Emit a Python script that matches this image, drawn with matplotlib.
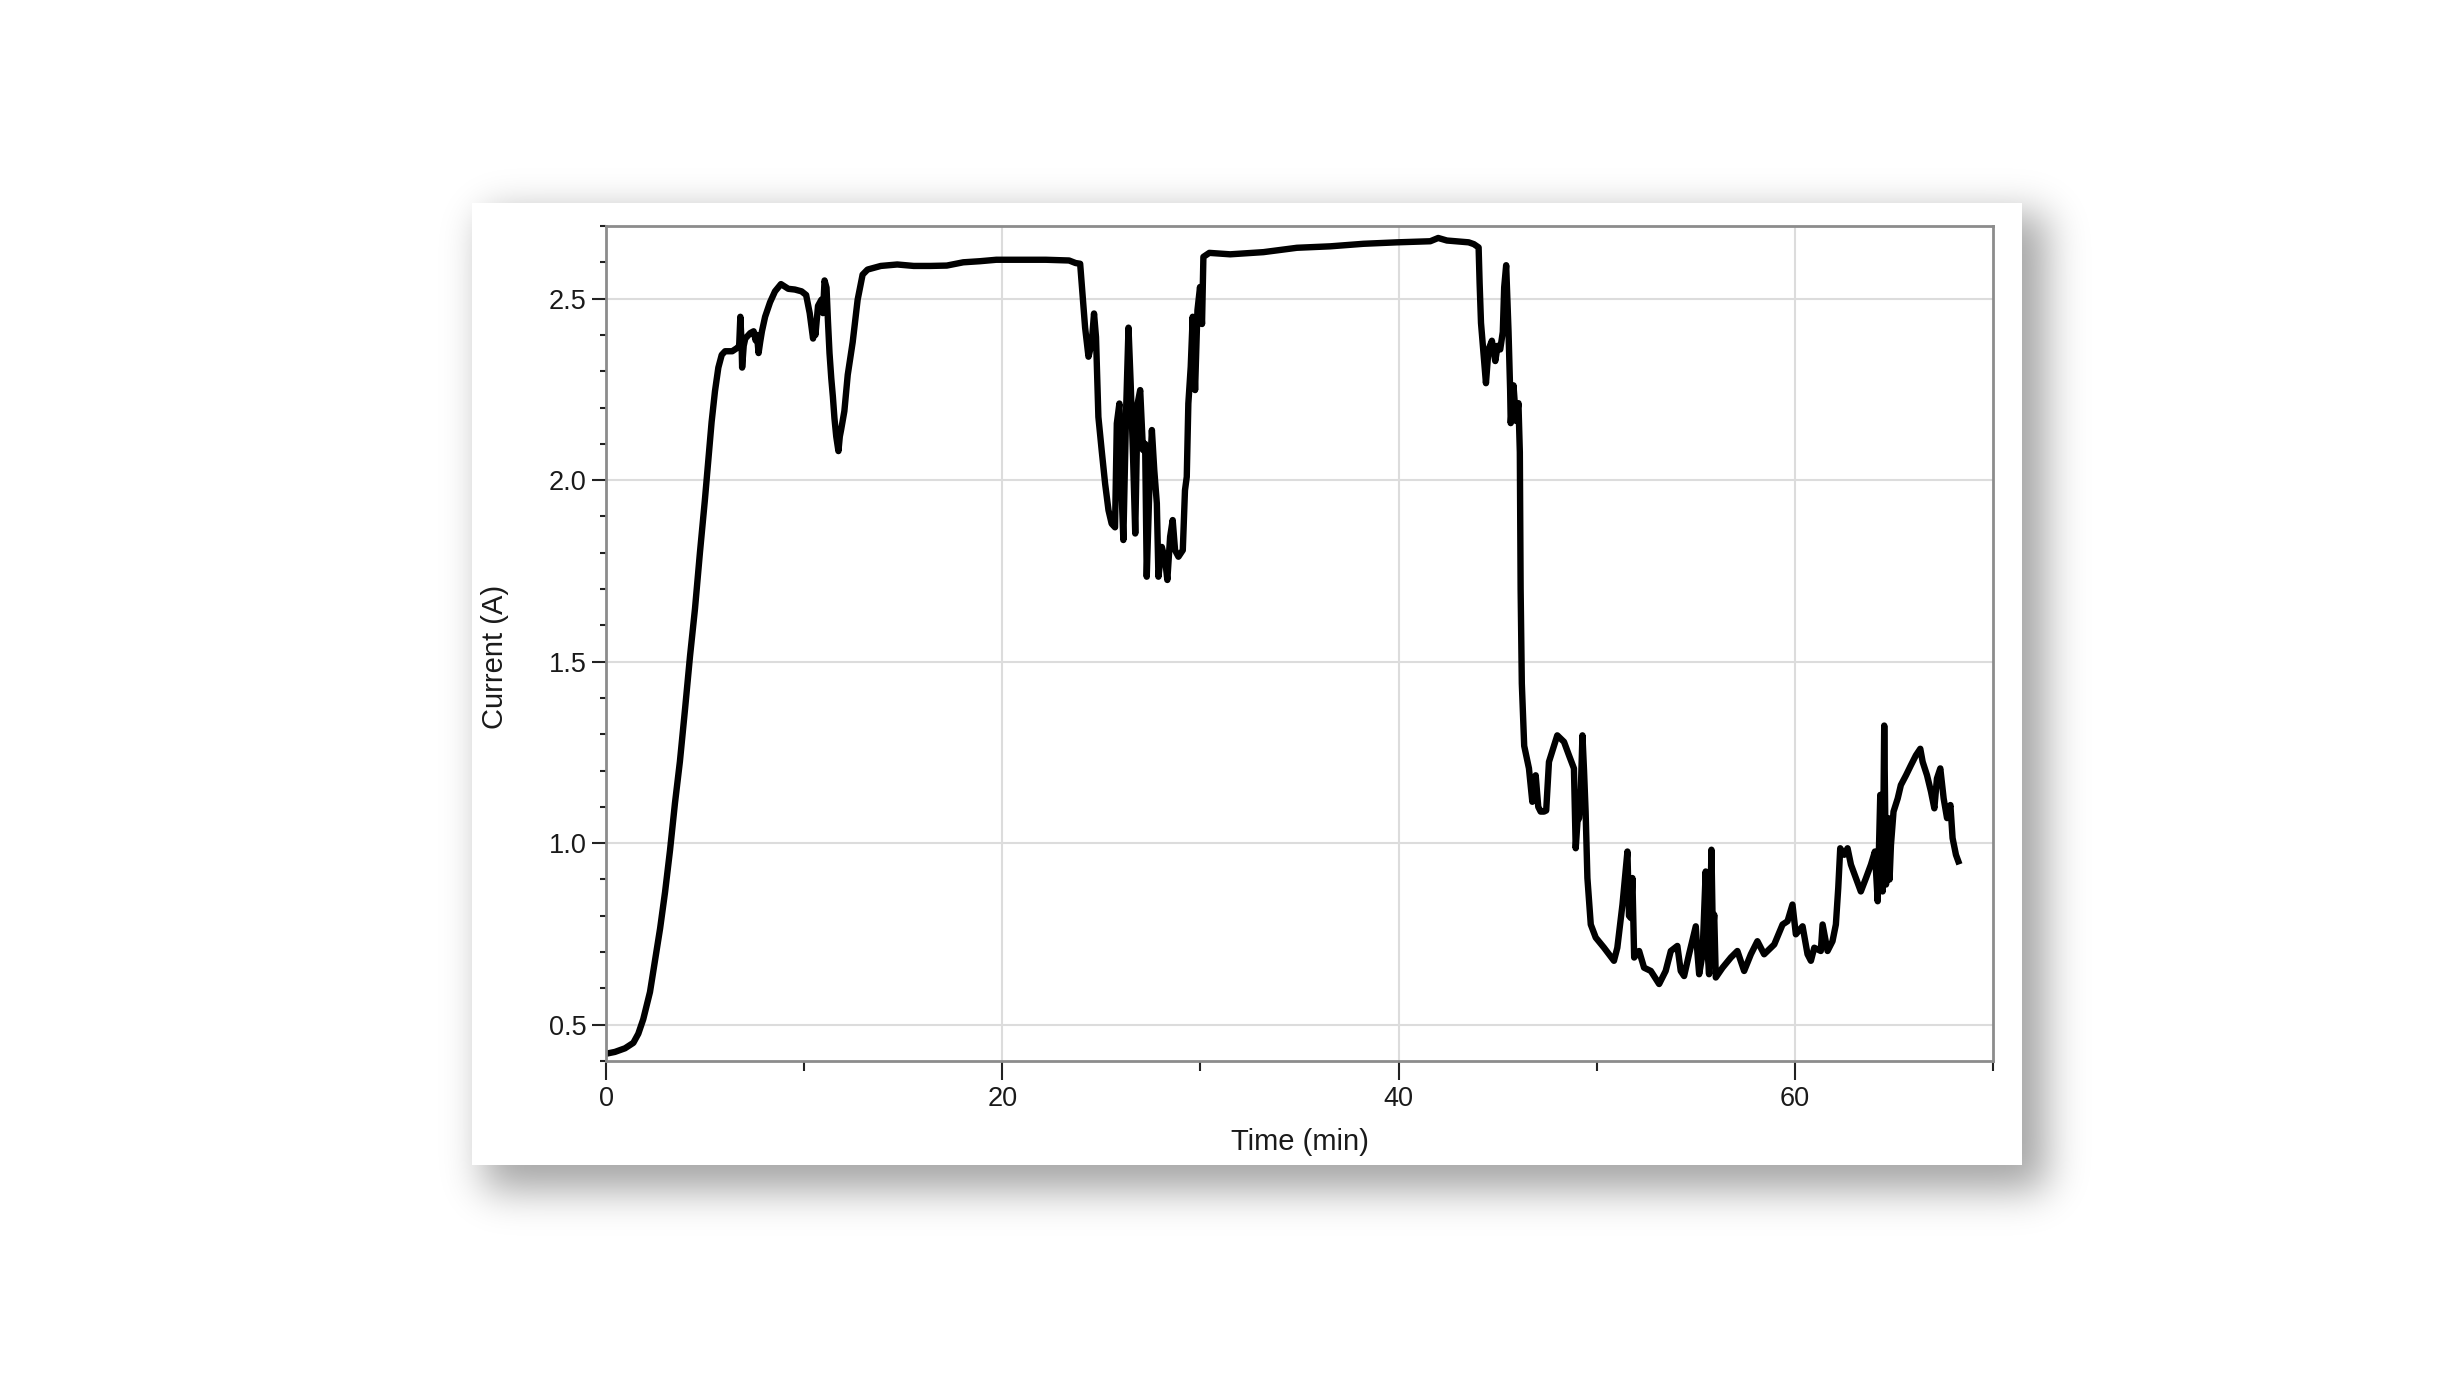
import math
import numpy as np
import matplotlib
matplotlib.use('Agg')
import matplotlib.pyplot as plt
from matplotlib.patches import Rectangle
from matplotlib.ticker import MultipleLocator

plt.rcParams['font.family'] = ['Liberation Sans', 'DejaVu Sans']

time_min = [
    0.0, 0.45, 0.96, 1.38, 1.63, 1.88, 2.22, 2.47, 2.73, 2.98, 3.23, 3.48, 3.73, 3.99,
    4.24, 4.49, 4.74, 4.99, 5.17, 5.33, 5.5, 5.67, 5.84, 6.01,
    6.37, 6.62, 6.72, 6.78, 6.84, 6.87, 6.95, 7.03, 7.28, 7.45, 7.55, 7.62, 7.7, 7.78,
    7.87, 8.03, 8.28, 8.53, 8.83, 9.2, 9.53, 9.87, 10.1, 10.28, 10.45, 10.52, 10.57,
    10.7, 10.87, 10.95, 11.03, 11.13, 11.2, 11.28, 11.37, 11.45, 11.53, 11.62, 11.73,
    11.8, 11.87, 12.03, 12.2, 12.45, 12.7, 12.95, 13.2, 13.87, 14.7, 15.53, 16.37,
    17.2, 18.03, 18.87, 19.7, 20.53, 21.37, 22.2, 23.37, 23.7,
    23.93, 24.06, 24.18, 24.35, 24.51, 24.63, 24.73, 24.85, 25.02, 25.19, 25.36,
    25.52, 25.69, 25.78, 25.91, 26.03, 26.11, 26.25, 26.37, 26.48, 26.6, 26.71,
    26.83, 26.96, 27.1, 27.21, 27.29, 27.43, 27.55, 27.67, 27.8, 27.88, 28.05,
    28.22, 28.33, 28.47, 28.6, 28.72, 28.89, 29.11, 29.22, 29.31, 29.39, 29.51,
    29.61, 29.73, 29.85, 29.98, 30.08, 30.15, 30.45, 31.5, 33.18, 34.87, 36.55,
    38.23, 39.92, 41.6, 42.0, 42.44, 43.54, 43.8,
    44.04, 44.09, 44.16, 44.29, 44.41, 44.54, 44.71, 44.88, 45.0, 45.13, 45.26,
    45.33, 45.43, 45.55, 45.63, 45.66, 45.8, 45.93, 46.05, 46.12, 46.16, 46.22,
    46.34, 46.58, 46.75, 46.92, 47.05, 47.17, 47.34, 47.45, 47.59, 48.01, 48.35,
    48.6, 48.85, 48.94, 49.03, 49.11, 49.2, 49.28, 49.36, 49.44, 49.53, 49.7,
    49.95, 50.37, 50.87, 51.04, 51.3, 51.55, 51.63, 51.72, 51.8, 51.89, 52.14,
    52.39, 52.73, 53.15, 53.48, 53.74, 54.07, 54.24, 54.41, 54.66, 55.0, 55.08,
    55.17, 55.34, 55.5, 55.6, 55.67, 55.79, 55.86, 55.93, 56.01, 56.35, 56.77,
    57.1, 57.44, 57.78, 58.11, 58.45, 58.96, 59.38, 59.63, 59.88, 60.05, 60.39,
    60.64, 60.81, 60.98, 61.31, 61.4, 61.65, 61.9, 62.07, 62.19, 62.29, 62.49,
    62.66, 62.83, 63.08, 63.33, 63.59, 63.84, 64.04, 64.18, 64.31, 64.43, 64.51,
    64.6, 64.71, 64.78, 64.85, 64.98, 65.19, 65.35, 65.61, 65.86, 66.11, 66.33,
    66.45, 66.67, 66.87, 67.04, 67.17, 67.34, 67.51, 67.68, 67.85, 67.96, 68.13,
    68.25,
]
current_a = [
    0.42, 0.425, 0.435, 0.45, 0.475, 0.515, 0.59, 0.675, 0.765, 0.865, 0.98, 1.11, 1.225, 1.37,
    1.515, 1.645, 1.80, 1.945, 2.06, 2.16, 2.245, 2.31, 2.345, 2.355,
    2.355, 2.364, 2.37, 2.45, 2.38, 2.31, 2.37, 2.39, 2.405, 2.41, 2.385, 2.40, 2.35, 2.38,
    2.41, 2.45, 2.49, 2.52, 2.54, 2.527, 2.525, 2.52, 2.51, 2.46, 2.39, 2.42, 2.40,
    2.48, 2.497, 2.46, 2.55, 2.53, 2.44, 2.35, 2.28, 2.23, 2.17, 2.12, 2.08,
    2.12, 2.14, 2.19, 2.29, 2.38, 2.497, 2.566, 2.58, 2.59, 2.594, 2.59, 2.59,
    2.591, 2.60, 2.603, 2.607, 2.607, 2.607, 2.607, 2.605, 2.598,
    2.596, 2.505, 2.42, 2.34, 2.376, 2.459, 2.394, 2.174, 2.08, 1.99, 1.917,
    1.88, 1.87, 2.156, 2.211, 1.954, 1.835, 2.193, 2.42, 2.266, 2.064, 1.853,
    2.211, 2.248, 2.083, 2.10, 1.734, 1.99, 2.138, 2.028, 1.936, 1.734, 1.816,
    1.78, 1.725, 1.844, 1.89, 1.807, 1.789, 1.807, 1.972, 2.009, 2.211, 2.312,
    2.45, 2.248, 2.468, 2.532, 2.43, 2.615, 2.626, 2.622, 2.628, 2.64, 2.644,
    2.651, 2.655, 2.658, 2.667, 2.66, 2.655, 2.65,
    2.641, 2.543, 2.433, 2.347, 2.267, 2.36, 2.384, 2.328, 2.37, 2.36, 2.408,
    2.531, 2.592, 2.408, 2.249, 2.157, 2.261, 2.163, 2.212, 2.077, 1.70, 1.44,
    1.268, 1.206, 1.114, 1.187, 1.10, 1.087, 1.087, 1.09, 1.224, 1.297, 1.279,
    1.242, 1.206, 0.986, 1.06, 1.069, 1.15, 1.297, 1.20, 1.087, 0.904, 0.776,
    0.74, 0.712, 0.676, 0.712, 0.831, 0.977, 0.80, 0.794, 0.904, 0.685, 0.703,
    0.657, 0.648, 0.612, 0.648, 0.703, 0.717, 0.648, 0.634, 0.694, 0.771, 0.70,
    0.639, 0.694, 0.922, 0.70, 0.639, 0.982, 0.75, 0.803, 0.63, 0.657, 0.685,
    0.703, 0.648, 0.694, 0.73, 0.694, 0.721, 0.776, 0.785, 0.831, 0.749, 0.771,
    0.694, 0.676, 0.712, 0.703, 0.776, 0.703, 0.73, 0.776, 0.877, 0.986, 0.968,
    0.986, 0.941, 0.904, 0.867, 0.904, 0.941, 0.977, 0.84, 1.133, 0.867, 1.324,
    0.886, 1.069, 0.90, 0.995, 1.087, 1.123, 1.16, 1.187, 1.215, 1.242, 1.26,
    1.224, 1.187, 1.142, 1.096, 1.178, 1.206, 1.123, 1.069, 1.105, 1.014, 0.968,
    0.95,
]

W, H = 2443, 1374
fig = plt.figure(figsize=(W / 100, H / 100), dpi=100)
fig.patch.set_facecolor('white')


# Ombre portée floue derrière la carte blanche
def soft_edge(n, a, b, s):
    x = np.arange(n) + 0.5
    erf = np.vectorize(math.erf)
    k = s * math.sqrt(2)
    return 0.5 * (erf((x - a) / k) - erf((x - b) / k))


fx = soft_edge(W, 484, 2046, 20)
fy = soft_edge(H, 214, 1190, 20)
shadow = np.zeros((H, W, 4))
shadow[..., 3] = 0.36 * np.outer(fy, fx)
fig.figimage(shadow, 0, 0, origin='upper', zorder=0)

card = Rectangle((472 / W, 1 - 1165 / H), 1550 / W, 962 / H, transform=fig.transFigure,
                 facecolor='white', edgecolor='none', zorder=1)
fig.add_artist(card)

# Graphique
ax = fig.add_axes([606 / W, 1 - 1061 / H, 1387 / W, 835 / H])
ax.set_zorder(2)
ax.plot(time_min, current_a, color='black', lw=4.6)

ax.set_xlim(0, 70)
ax.set_ylim(0.4, 2.7)
ax.xaxis.set_major_locator(MultipleLocator(20))
ax.xaxis.set_minor_locator(MultipleLocator(10))
ax.yaxis.set_major_locator(MultipleLocator(0.5))
ax.yaxis.set_minor_locator(MultipleLocator(0.1))

ax.grid(True, which='major', color='#dcdcdc', lw=1.5)
ax.set_axisbelow(True)
for s in ax.spines.values():
    s.set_color('#8c8c8c')
    s.set_linewidth(2)

ax.tick_params(axis='x', which='major', length=14, width=1.5, color='#222222',
               labelsize=19.5, pad=4, labelcolor='#1a1a1a')
ax.tick_params(axis='x', which='minor', length=7, width=1.5, color='#222222')
ax.tick_params(axis='y', which='major', length=10, width=1.5, color='#222222',
               labelsize=19.5, pad=4, labelcolor='#1a1a1a')
ax.tick_params(axis='y', which='minor', length=4.5, width=1.5, color='#222222')

ax.set_xlabel('Time (min)', fontsize=21, color='#1a1a1a')
ax.set_ylabel('Current (A)', fontsize=21, color='#1a1a1a')
ax.xaxis.set_label_coords(0.5, -0.080)
ax.yaxis.set_label_coords(-0.070, 0.484)

plt.savefig('out.png', dpi=100)
